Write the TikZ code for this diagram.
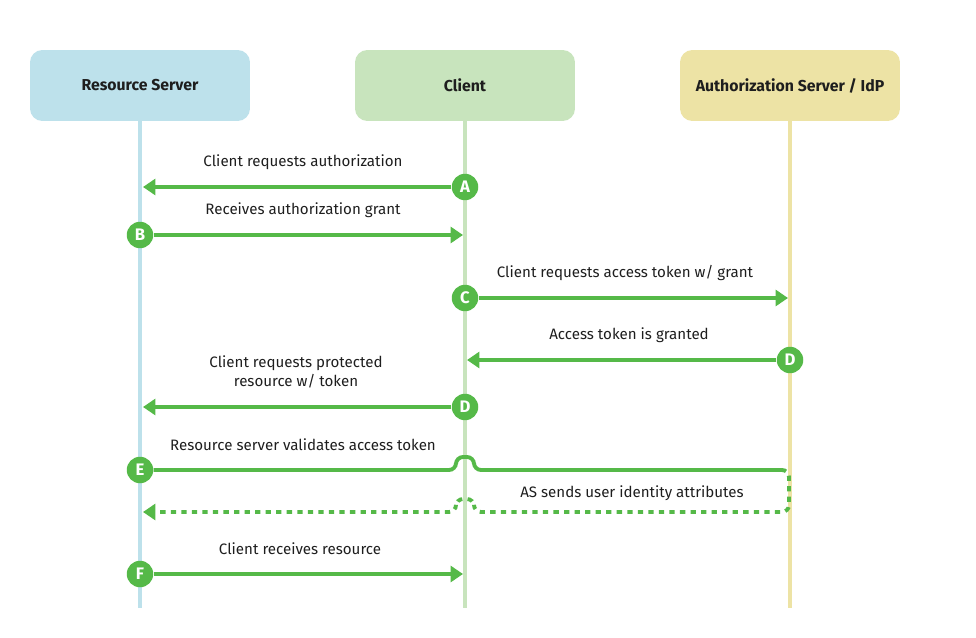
\documentclass[tikz,border=0pt]{standalone}
\usepackage{fontspec}
\setmainfont{Fira Sans}
\usepackage{xcolor}
\usetikzlibrary{arrows.meta, positioning}

\definecolor{rsblue}{HTML}{BDE1EB}
\definecolor{clgreen}{HTML}{C8E4BD}
\definecolor{asyellow}{HTML}{EDE3A5}
\definecolor{flow}{HTML}{55B948}
\definecolor{ink}{HTML}{1E1E1E}

\begin{document}
\begin{tikzpicture}[
    x=0.02cm, y=-0.02cm,
    font=\fontsize{8.6}{10.5}\selectfont,
    text=ink,
    header/.style={
        rounded corners=7pt,
        align=center,
        minimum width=4.4cm,
        minimum height=1.42cm,
        font=\fontsize{9}{11}\selectfont\bfseries
    },
    lifeline/.style={line width=2.8pt},
    badge/.style={
        circle,
        fill=flow,
        minimum size=0.53cm,
        inner sep=0pt,
        text=white,
        font=\fontsize{9.5}{11}\selectfont\bfseries
    },
    msg/.style={draw=flow, line width=2.2pt, -{Triangle[length=7pt, width=9pt]}},
    note/.style={align=center}
]

\useasboundingbox (0,0) rectangle (976,638);

% participants
\node[header, fill=rsblue] (rs) at (140,85.5) {Resource Server};
\node[header, fill=clgreen] (cl) at (465,85.5) {Client};
\node[header, fill=asyellow] (as) at (790,85.5) {Authorization Server / IdP};

\coordinate (rsend) at (140,608);
\coordinate (clend) at (465,608);
\coordinate (asend) at (790,608);

\draw[lifeline, rsblue] (rs.south) -- (rsend);
\draw[lifeline, clgreen] (cl.south) -- (clend);
\draw[lifeline, asyellow] (as.south) -- (asend);

% end points on the lifelines
\coordinate (ta) at (143,187);
\coordinate (tb) at (463,235);
\coordinate (tc) at (788,298);
\coordinate (td) at (467,360);
\coordinate (te) at (143,407);
\coordinate (turn) at (781,470);
\coordinate (back) at (143,512);
\coordinate (tf) at (463,574);

% steps
\node[badge] (nA) at (465,187) {A};
\node[badge] (nB) at (140,235) {B};
\node[badge] (nC) at (465,298) {C};
\node[badge] (nD) at (790,360) {D};
\node[badge] (nD2) at (465,407) {D};
\node[badge] (nE) at (140,470) {E};
\node[badge] (nF) at (140,574) {F};

\draw[msg] (nA) -- (ta);
\draw[msg] (nB) -- (tb);
\draw[msg] (nC) -- (tc);
\draw[msg] (nD) -- (td);
\draw[msg] (nD2) -- (te);
\draw[draw=flow, line width=2.2pt, rounded corners=4pt]
    (nE) -- (456,470) -- (456,457) -- (474,457) -- (474,470) -- (turn);
\draw[msg, dash pattern=on 3pt off 3pt, rounded corners=4pt]
    (turn) -- (789,470) -- (789,512) -- (474,512) -- (474,499)
    -- (456,499) -- (456,512) -- (back);
\draw[msg] (nF) -- (tf);

% labels
\node[note] (la) at (303,162) {Client requests authorization};
\node[note] (lb) at (303,210) {Receives authorization grant};
\node[note] (lc) at (625,273) {Client requests access token w/ grant};
\node[note] (ld) at (629,335) {Access token is granted};
\node[note] (ld2) at (296,372) {Client requests protected\\resource w/ token};
\node[note] (le) at (303,445) {Resource server validates access token};
\node[note] (lg) at (632,493) {AS sends user identity attributes};
\node[note] (lf) at (300,549) {Client receives resource};

\end{tikzpicture}
\end{document}
